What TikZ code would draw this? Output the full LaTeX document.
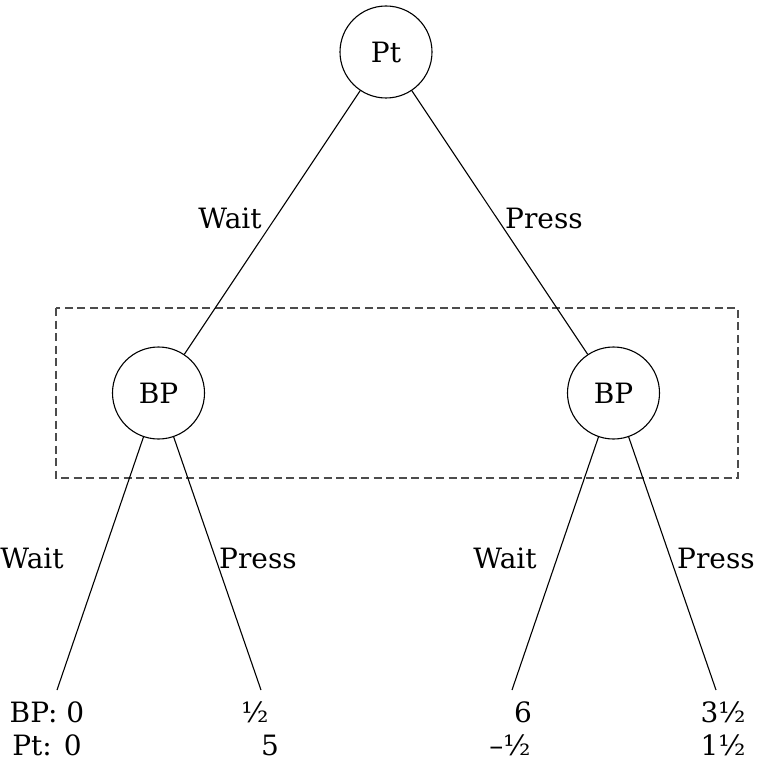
\documentclass[tikz,border=0pt]{standalone}
\usepackage{fontspec}
\setmainfont{DejaVu Serif}
\begin{document}
\begin{tikzpicture}[x=1pt,y=-1pt,
  every node/.style={font=\fontsize{28}{32}\selectfont},
  player/.style={draw,circle,minimum size=92pt,inner sep=0pt,line width=1.1pt},
  edge/.style={line width=1.1pt},
  lbl/.style={inner sep=0pt,anchor=center},
  infoset/.style={draw=black!70,dash pattern=on 8pt off 4.5pt,line width=1.2pt}]
\useasboundingbox (0,0) rectangle (756,762);
\node[player] (pt) at (386,52) {Pt};
\node[player] (bp1) at (158.5,393) {BP};
\node[player] (bp2) at (613.5,393) {BP};
\coordinate (l1) at (57,690);
\coordinate (l2) at (261,690);
\coordinate (l3) at (512,690);
\coordinate (l4) at (716,690);
\draw[infoset] (56,308) rectangle (738,478);
\draw[edge] (pt) -- (bp1);
\draw[edge] (pt) -- (bp2);
\draw[edge] (bp1) -- (l1);
\draw[edge] (bp1) -- (l2);
\draw[edge] (bp2) -- (l3);
\draw[edge] (bp2) -- (l4);
\node[lbl] (w0) at (230,218) {Wait};
\node[lbl] (p0) at (544,218) {Press};
\node[lbl] (w1) at (32,558) {Wait};
\node[lbl] (p1) at (258,558) {Press};
\node[lbl] (w2) at (505,558) {Wait};
\node[lbl] (p2) at (716,558) {Press};
\node[lbl] (a1) at (47,712) {BP: 0};
\node[lbl] (a2) at (255,712) {½};
\node[lbl] (a3) at (523,712) {6};
\node[lbl] (a4) at (723,712) {3½};
\node[lbl] (b1) at (47,745) {Pt: 0};
\node[lbl] (b2) at (270,745) {5};
\node[lbl] (b3) at (510,745) {–½};
\node[lbl] (b4) at (723,745) {1½};
\end{tikzpicture}
\end{document}
